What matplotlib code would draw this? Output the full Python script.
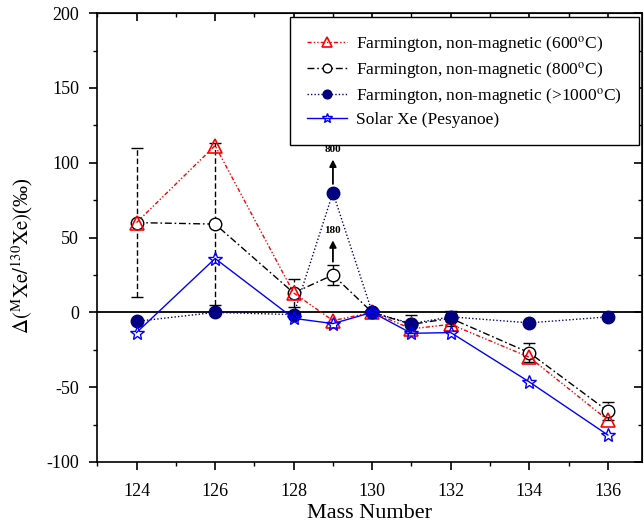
import matplotlib.pyplot as plt
from matplotlib.ticker import MultipleLocator, NullFormatter

plt.rcParams['font.family'] = ['Liberation Serif', 'DejaVu Serif']
plt.rcParams['mathtext.fontset'] = 'stix'
plt.rcParams['axes.unicode_minus'] = False

mass = [124, 126, 128, 129, 130, 131, 132, 134, 136]

t600 = [60, 111.5, 13, -5.5, 0, -11, -8, -30, -72]
t800 = [60, 59, 13, 25, 0, -8, -4, -27, -66]
t800_err = [50, 54, 9.5, 6.5, 0, 6, 5, 6.5, 6]
t1000 = [-6, 0, -1.5, 80, 0, -7.5, -3, -7, -3]
solar = [-13.5, 36, -4, -7.5, 0, -14, -13.5, -46.5, -82]

labels = [
    'Farmington, non-magnetic (600$^{\\mathrm{o}}$C)',
    'Farmington, non-magnetic (800$^{\\mathrm{o}}$C)',
    'Farmington, non-magnetic (>1000$^{\\mathrm{o}}$C)',
    'Solar Xe (Pesyanoe)',
]

fig = plt.figure(figsize=(6.44, 5.25), dpi=100)
ax = fig.add_axes([0.151, 0.12, 0.846, 0.855])

ax.axhline(0, color='black', lw=1.3, zorder=1)

# error bars of the 800 C run
eb = ax.errorbar(mass, t800, yerr=t800_err, fmt='none', ecolor='black',
                 elinewidth=1.0, capsize=4, capthick=1.0, zorder=2)
eb[2][0].set_linestyle((0, (4, 2)))

ax.plot(mass, t600, color='red', lw=1.0, ls=(0, (3, 1.5, 1, 1.5, 1, 1.5)),
        marker='^', ms=10, mfc='none', mec='red', mew=1.2, label=labels[0], zorder=4)
ax.plot(mass, t800, color='black', lw=1.0, ls=(0, (5, 2, 1.2, 2)),
        marker='o', ms=9, mfc='white', mec='black', mew=1.0, label=labels[1], zorder=3)
ax.plot(mass, t1000, color='#000080', lw=1.0, ls=(0, (1, 1.5)),
        marker='o', ms=9, mfc='#000080', mec='#000080', label=labels[2], zorder=5)
ax.plot(mass, solar, color='blue', lw=1.0, ls='-',
        marker='*', ms=10, mfc='none', mec='blue', mew=1.0, label=labels[3], zorder=6)

# off-scale values
ax.annotate('', xy=(129, 104), xytext=(129, 84),
            arrowprops=dict(arrowstyle='-|>', color='black', lw=1.3, mutation_scale=10))
ax.text(129, 106, '800', ha='center', va='bottom', fontsize=8, fontweight='bold')
ax.annotate('', xy=(129, 50), xytext=(129, 32),
            arrowprops=dict(arrowstyle='-|>', color='black', lw=1.3, mutation_scale=10))
ax.text(129, 52, '180', ha='center', va='bottom', fontsize=8, fontweight='bold')

ax.set_xlim(123, 136.87)
ax.set_ylim(-100, 200)
ax.xaxis.set_major_locator(MultipleLocator(2))
ax.xaxis.set_minor_locator(MultipleLocator(1))
ax.yaxis.set_major_locator(MultipleLocator(50))
ax.yaxis.set_minor_locator(MultipleLocator(25))
ax.tick_params(which='major', direction='out', length=6, width=1.2, labelsize=13)
ax.tick_params(axis='x', which='major', pad=9)
ax.tick_params(axis='y', which='major', pad=7)
ax.tick_params(which='minor', direction='out', length=3, width=1.0)

for s in ax.spines.values():
    s.set_linewidth(1.2)

top = ax.secondary_xaxis('top')
top.xaxis.set_major_locator(MultipleLocator(2))
top.xaxis.set_minor_locator(MultipleLocator(1))
top.xaxis.set_major_formatter(NullFormatter())
top.tick_params(which='major', direction='in', length=6, width=1.2)
top.tick_params(which='minor', direction='in', length=3, width=1.0)
right = ax.secondary_yaxis('right')
right.yaxis.set_major_locator(MultipleLocator(50))
right.yaxis.set_minor_locator(MultipleLocator(25))
right.yaxis.set_major_formatter(NullFormatter())
right.tick_params(which='major', direction='in', length=6, width=1.2)
right.tick_params(which='minor', direction='in', length=3, width=1.0)

ax.set_xlabel('Mass Number', fontsize=16, labelpad=3)
ax.set_ylabel('$\\Delta(^{\\mathrm{M}}\\mathrm{Xe}/^{130}\\mathrm{Xe})$(‰)', fontsize=15)
ax.yaxis.set_label_coords(-0.115, 0.46)

leg = ax.legend(loc='upper right', fontsize=12.5, frameon=True, fancybox=False,
                edgecolor='black', framealpha=1, borderaxespad=0.2,
                handlelength=2.3, handletextpad=0.5, labelspacing=0.3,
                borderpad=1.0, markerscale=0.7)
leg.get_frame().set_linewidth(1.0)

fig.savefig('out.png', dpi=100)
